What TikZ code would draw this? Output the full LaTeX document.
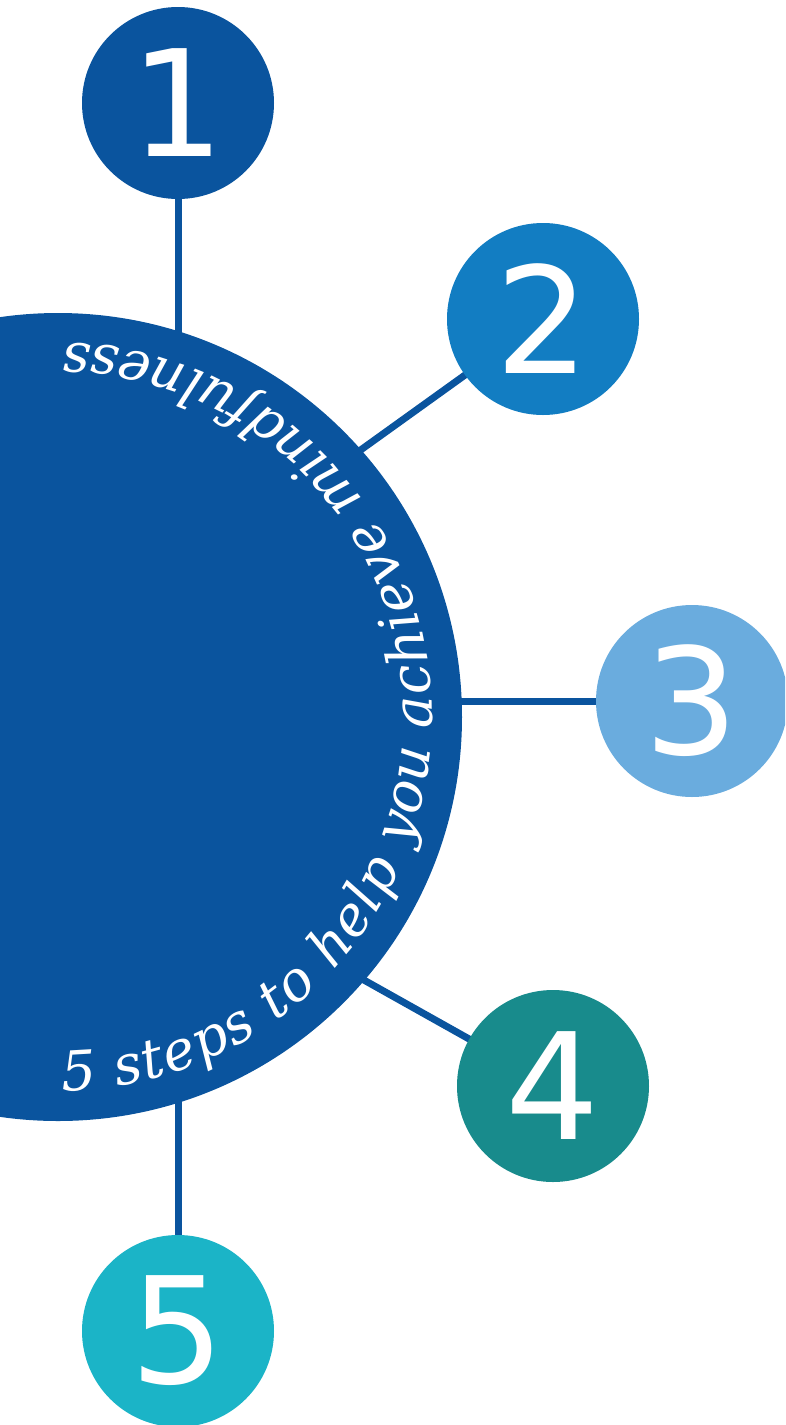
\documentclass[tikz,border=0pt]{standalone}
\usepackage{fontspec}
\usetikzlibrary{decorations.text,backgrounds}
\newfontfamily\numfont{DejaVu Sans}
\newfontfamily\arcfont{DejaVu Serif}
\definecolor{cdark}{HTML}{0A549E}
\definecolor{ctwo}{HTML}{127DC2}
\definecolor{cthree}{HTML}{6AACDE}
\definecolor{cfour}{HTML}{188B8C}
\definecolor{cfive}{HTML}{1BB4C7}
\tikzset{
  bigdisc/.style={circle, inner sep=0, minimum size=808, fill=cdark},
  stepdisc/.style={circle, inner sep=0, minimum size=192, text=white,
    font=\numfont\fontsize{148}{148}\selectfont},
  link/.style={draw=cdark, line width=7}
}
\begin{document}
\begin{tikzpicture}[x=1pt,y=-1pt]
\useasboundingbox (0,0) rectangle (785,1425);
\clip (0,0) rectangle (785,1425);
\node[bigdisc] (big) at (58,717) {};
\node[stepdisc, fill=cdark] (n1) at (178,103) {1};
\node[stepdisc, fill=ctwo] (n2) at (543,319) {2};
\node[stepdisc, fill=cthree] (n3) at (692,701) {3};
\node[stepdisc, fill=cfour] (n4) at (553,1086) {4};
\node[stepdisc, fill=cfive] (n5) at (178,1331) {5};
\coordinate (c2) at (330,472);
\coordinate (c4) at (330,961);
\begin{pgfonlayer}{background}
\draw[link] (n1.center) -- (n1.center |- big.center);
\draw[link] (n2.center) -- (c2);
\draw[link] (n3.center) -- (n3.center -| big.center);
\draw[link] (n4.center) -- (c4);
\draw[link] (n5.center) -- (n5.center |- big.center);
\end{pgfonlayer}
\path[decorate, decoration={text along path,
  text={|\arcfont\itshape\fontsize{55}{60}\selectfont\color{white}|5 steps to help you achieve mindfulness},
  text align={fit to path}}]
  (big.center) ++(89.3:374) arc[start angle=89.3, end angle=-89.2, radius=374];
\end{tikzpicture}
\end{document}
